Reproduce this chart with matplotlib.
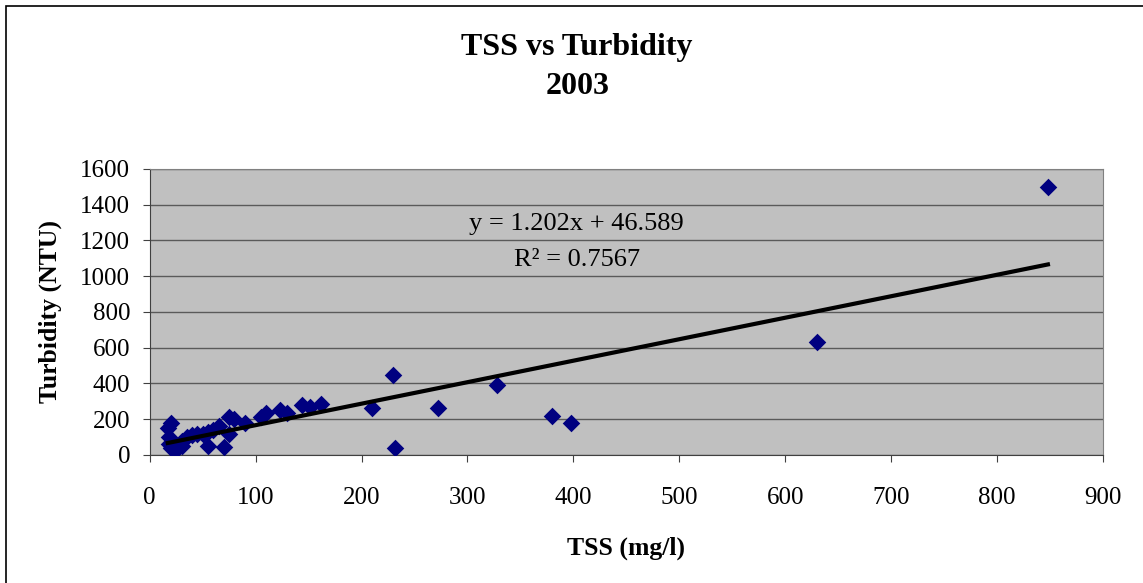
import numpy as np
import matplotlib.pyplot as plt
from matplotlib.patches import Rectangle

plt.rcParams['font.family'] = ['Liberation Serif', 'DejaVu Serif']

# TSS (mg/l) vs Turbidity (NTU), 2003
tss = [17, 18, 20, 18, 20, 25, 30, 30, 35, 40, 45, 50, 55, 55, 60, 65, 70, 75,
       75, 80, 90, 105, 110, 123, 130, 144, 151, 162, 210, 230, 232, 272, 328,
       380, 398, 630, 848]
turb = [150, 100, 180, 60, 40, 30, 80, 50, 100, 110, 115, 120, 130, 50, 140, 160,
        45, 210, 120, 200, 180, 215, 235, 252, 235, 280, 268, 285, 265, 450, 40,
        260, 390, 220, 180, 630, 1500]

slope = 1.202
intercept = 46.589
eq_text = "y = 1.202x + 46.589"
r2_text = "R\u00b2 = 0.7567"

fig = plt.figure(figsize=(11.43, 5.83), dpi=100)
# outer chart border (only left/top edges fall inside the image)
fig.patches.append(Rectangle((0.0052, -0.1), 1.2, 1.0897, transform=fig.transFigure,
                             fill=False, edgecolor='black', linewidth=1.2))
ax = fig.add_axes([0.131, 0.2196, 0.834, 0.4906])
ax.set_facecolor('#C0C0C0')

ax.scatter(tss, turb, marker='D', s=80, color='#000080', zorder=3, linewidths=0)
xl = np.array([min(tss), max(tss)])
ax.plot(xl, slope * xl + intercept, color='black', lw=3, zorder=4)

ax.set_xlim(0, 900)
ax.set_ylim(0, 1600)
ax.set_xticks(range(0, 1000, 100))
ax.set_yticks(range(0, 1800, 200))
ax.yaxis.grid(True, color='#5a5a5a', lw=1)
ax.set_axisbelow(True)
ax.tick_params(direction='out', length=5, labelsize=18, color='#404040')
ax.tick_params(axis='x', pad=18)
ax.tick_params(axis='y', pad=9)
for s in ['top', 'right']:
    ax.spines[s].set_color('#808080')
for s in ['left', 'bottom']:
    ax.spines[s].set_color('#404040')

ax.set_xlabel('TSS (mg/l)', fontsize=18.5, fontweight='bold', labelpad=20)
ax.set_ylabel('Turbidity (NTU)', fontsize=18.5, fontweight='bold', labelpad=13)

fig.text(0.505, 0.918, 'TSS vs Turbidity', ha='center', va='center', fontsize=23, fontweight='bold')
fig.text(0.505, 0.851, '2003', ha='center', va='center', fontsize=23, fontweight='bold')

ax.text(403, 1290, eq_text, ha='center', va='center', fontsize=19)
ax.text(403, 1090, r2_text, ha='center', va='center', fontsize=19)

fig.savefig('out.png', dpi=100)
